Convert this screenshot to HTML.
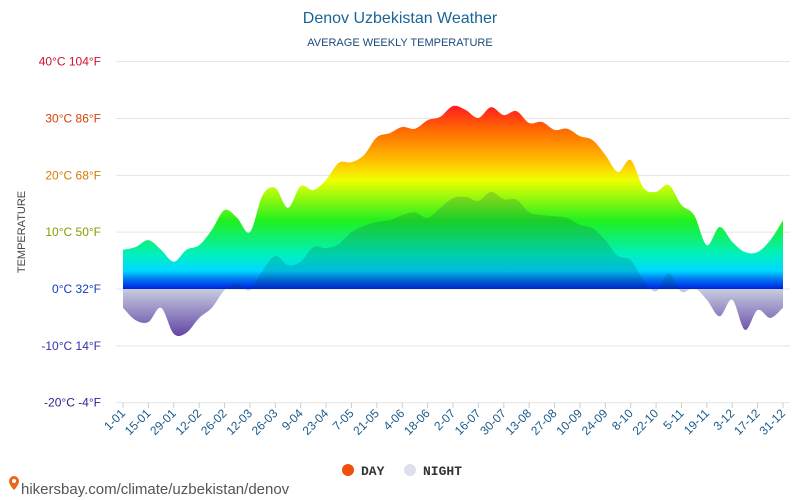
<!DOCTYPE html>
<html><head><meta charset="utf-8"><style>
body{margin:0;background:#fff;width:800px;height:500px;overflow:hidden;font-family:"Liberation Sans",sans-serif}
svg{display:block}
</style></head><body>
<svg id="chart" width="800" height="500" viewBox="0 0 800 500">
<defs>
<linearGradient id="dayGrad" gradientUnits="userSpaceOnUse" x1="0" y1="62" x2="0" y2="289">
<stop offset="0" stop-color="#ff0040"/>
<stop offset="0.2" stop-color="#ff2020"/>
<stop offset="0.3" stop-color="#ff6a00"/>
<stop offset="0.45" stop-color="#ffc800"/>
<stop offset="0.52" stop-color="#f0ff00"/>
<stop offset="0.7" stop-color="#20f020"/>
<stop offset="0.85" stop-color="#00f0c0"/>
<stop offset="0.92" stop-color="#00d8ff"/>
<stop offset="0.96" stop-color="#0070f0"/>
<stop offset="1" stop-color="#0020e0"/>
</linearGradient>
<linearGradient id="nightGrad" gradientUnits="userSpaceOnUse" x1="0" y1="289" x2="0" y2="340">
<stop offset="0" stop-color="#c8cce0"/>
<stop offset="1" stop-color="#5a3aa0"/>
</linearGradient>
<clipPath id="abovezero"><rect x="0" y="0" width="800" height="289"/></clipPath>
<clipPath id="belowzero"><rect x="0" y="289" width="800" height="200"/></clipPath>
</defs>
<text x="400" y="23" text-anchor="middle" font-size="16" fill="#1a6496">Denov Uzbekistan Weather</text>
<text x="400" y="46" text-anchor="middle" font-size="11" fill="#1a4a7a">AVERAGE WEEKLY TEMPERATURE</text>
<text transform="translate(25,232) rotate(-90)" text-anchor="middle" font-size="11" fill="#444">TEMPERATURE</text>
<g id="grid"></g>
<g id="areas"></g>
<g id="xlabels"></g>
<g>
<circle cx="348" cy="470" r="6" fill="#f04e0a"/>
<text x="361" y="475" font-family="Liberation Mono,monospace" font-weight="bold" font-size="13" fill="#333">DAY</text>
<circle cx="410" cy="470" r="6" fill="#dde0ec"/>
<text x="423" y="475" font-family="Liberation Mono,monospace" font-weight="bold" font-size="13" fill="#333">NIGHT</text>
</g>
<g>
<path d="M9 481a5 5 0 0 1 10 0c0 4-5 9-5 9s-5-5-5-9z" fill="#e8681a"/>
<circle cx="14" cy="481" r="2" fill="#fff"/>
<text x="21" y="494" font-size="15" fill="#555">hikersbay.com/climate/uzbekistan/denov</text>
</g>
</svg>
<script>
const weeks=["1-01","15-01","29-01","12-02","26-02","12-03","26-03","9-04","23-04","7-05","21-05","4-06","18-06","2-07","16-07","30-07","13-08","27-08","10-09","24-09","8-10","22-10","5-11","19-11","3-12","17-12","31-12"];
const dayTemps=[6.9,7.4,8.6,6.9,4.8,6.9,7.7,10.4,13.9,12.5,10,16.5,17.8,14.3,18.1,17.4,19.2,22.2,22.3,23.6,26.7,27.4,28.5,28.2,29.7,30.3,32.2,31.5,30.1,32,30.6,31.3,29.2,29.4,28,28.2,26.9,26.2,23.6,20.6,22.7,17.8,17.1,18.3,14.8,13,7.7,10.9,8.3,6.5,6.5,8.6,12.1];
const nightTemps=[-3.3,-5.5,-5.8,-3.3,-7.9,-7.7,-5.1,-3.3,-0.2,1,-0.2,3.3,5.8,4.2,4.8,7.4,7.2,7.9,10,11.1,11.8,12.1,13,13.5,12.5,14.3,16,16.2,15.5,17.1,15.8,15.7,13.5,13,12.8,12.5,11.3,10.7,8.6,5.8,5.1,1.6,-0.4,2.8,-0.5,0.2,-1.9,-4.8,-1.9,-7.2,-3.7,-5.1,-3.3];
const yTicks=[40,30,20,10,0,-10,-20];
const yLabels=["40°C 104°F","30°C 86°F","20°C 68°F","10°C 50°F","0°C 32°F","-10°C 14°F","-20°C -4°F"];
const yColors=["#d0102a","#d8400a","#d87a00","#8a9a00","#1040c0","#3030b0","#3a1a90"];
const NS="http://www.w3.org/2000/svg";
const X0=123,X1=783,Y0=289,PX=(403-62)/60;
const xs=i=>X0+(X1-X0)*i/(dayTemps.length-1);
const ys=v=>Y0-v*PX;
function mk(t,a,p){const e=document.createElementNS(NS,t);for(const k in a)e.setAttribute(k,a[k]);p.appendChild(e);return e;}
const grid=document.getElementById('grid');
yTicks.forEach((v,i)=>{
 const l=mk('line',{x1:116,x2:790,y1:ys(v),y2:ys(v),stroke:'#e4e4e4','stroke-width':1},grid);
 
 
 const t=mk('text',{x:101,y:ys(v)+4,'text-anchor':'end','font-size':12,fill:yColors[i]},grid);
 t.textContent=yLabels[i];
 
 
});
function smooth(vals){
 const p=vals.map((v,i)=>[xs(i),ys(v)]);
 let d='M'+p[0][0]+','+p[0][1];
 for(let i=0;i<p.length-1;i++){
  const a=p[Math.max(0,i-1)],b=p[i],c=p[i+1],e=p[Math.min(p.length-1,i+2)];
  const c1=[b[0]+(c[0]-a[0])/6,b[1]+(c[1]-a[1])/6],c2=[c[0]-(e[0]-b[0])/6,c[1]-(e[1]-b[1])/6];
  d+=' C'+c1[0]+','+c1[1]+' '+c2[0]+','+c2[1]+' '+c[0]+','+c[1];
 }
 return d;
}
function area(vals){return smooth(vals)+' L'+xs(vals.length-1)+','+Y0+' L'+X0+','+Y0+' Z';}
const ar=document.getElementById('areas');
const dayA=mk('path',{d:area(dayTemps),fill:'url(#dayGrad)'},ar);


const nUp=mk('path',{d:area(nightTemps),fill:'rgba(0,60,80,0.18)','clip-path':'url(#abovezero)'},ar);


const nDn=mk('path',{d:area(nightTemps),fill:'url(#nightGrad)','clip-path':'url(#belowzero)'},ar);


const xl=document.getElementById('xlabels');
weeks.forEach((w,i)=>{
 const x=xs(i*2);
 const tk=mk('line',{x1:x,x2:x,y1:403,y2:408,stroke:'#ccc'},xl);
 
 
 const t=mk('text',{x:x+3,y:414,'text-anchor':'end','font-size':12,fill:'#1a5a8a',transform:'rotate(-45 '+(x+3)+' 414)'},xl);
 t.textContent=w;
 
 
});
</script>
</body></html>
